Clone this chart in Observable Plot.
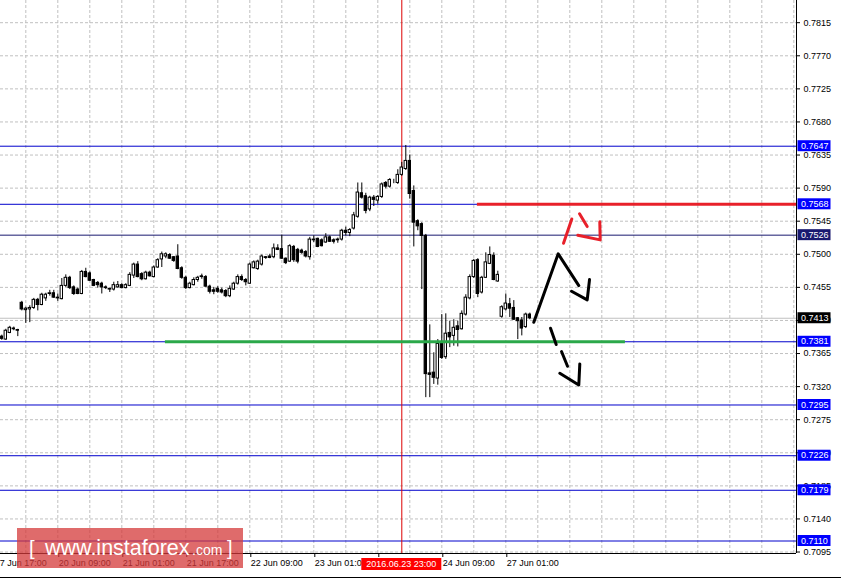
<!DOCTYPE html>
<html><head><meta charset="utf-8">
<script src="https://cdn.jsdelivr.net/npm/d3@7"></script>
<script src="https://cdn.jsdelivr.net/npm/@observablehq/plot@0.6"></script>
<style>
html,body{margin:0;padding:0;background:#fff;}
#chart{position:relative;width:841px;height:580px;overflow:hidden;}
</style></head><body><div id="chart"></div>
<script>
// ---- data (hourly bars, index 0 = 17 Jun 17:00) ----
const firstBar = 2;
const opens = [0.7388,0.7384,0.7393,0.7398,0.7397,0.7434,0.7424,0.7425,0.7427,0.7438,0.7431,0.7440,0.7446,0.7447,0.7441,0.7439,0.7457,0.7468,0.7455,0.7452,0.7446,0.7476,0.7474,0.7465,0.7461,0.7460,0.7455,0.7453,0.7452,0.7455,0.7458,0.7454,0.7457,0.7471,0.7486,0.7473,0.7466,0.7475,0.7469,0.7482,0.7493,0.7497,0.7499,0.7496,0.7497,0.7481,0.7468,0.7454,0.7458,0.7465,0.7470,0.7469,0.7456,0.7451,0.7453,0.7451,0.7450,0.7443,0.7452,0.7460,0.7469,0.7465,0.7460,0.7481,0.7480,0.7486,0.7496,0.7497,0.7496,0.7508,0.7507,0.7494,0.7490,0.7510,0.7506,0.7505,0.7503,0.7496,0.7520,0.7521,0.7519,0.7516,0.7523,0.7519,0.7519,0.7520,0.7532,0.7529,0.7535,0.7551,0.7583,0.7579,0.7561,0.7577,0.7573,0.7578,0.7597,0.7592,0.7600,0.7597,0.7608,0.7616,0.7627,0.7586,0.7545,0.7541,0.7525,0.7338,0.7339,0.7331,0.7380,0.7360,0.7393,0.7389,0.7402,0.7398,0.7418,0.7440,0.7469,0.7492,0.7448,0.7468,0.7487,0.7498,0.7463,0.7415,0.7425,0.7432,0.7427,0.7413,0.7410,0.7401,0.7418];
const highs = [0.7390,0.7398,0.7402,0.7401,0.7398,0.7436,0.7428,0.7430,0.7440,0.7440,0.7447,0.7447,0.7451,0.7451,0.7446,0.7467,0.7472,0.7470,0.7457,0.7454,0.7478,0.7481,0.7476,0.7466,0.7463,0.7462,0.7457,0.7454,0.7462,0.7463,0.7460,0.7460,0.7475,0.7488,0.7490,0.7475,0.7477,0.7477,0.7484,0.7494,0.7503,0.7502,0.7501,0.7497,0.7513,0.7483,0.7470,0.7462,0.7468,0.7470,0.7473,0.7471,0.7458,0.7455,0.7456,0.7454,0.7452,0.7457,0.7462,0.7472,0.7472,0.7467,0.7488,0.7491,0.7492,0.7499,0.7497,0.7500,0.7514,0.7513,0.7526,0.7495,0.7513,0.7512,0.7508,0.7507,0.7505,0.7523,0.7525,0.7522,0.7521,0.7528,0.7525,0.7521,0.7522,0.7534,0.7537,0.7535,0.7557,0.7597,0.7597,0.7583,0.7579,0.7580,0.7580,0.7597,0.7599,0.7603,0.7602,0.7615,0.7625,0.7648,0.7635,0.7593,0.7547,0.7543,0.7527,0.7404,0.7366,0.7384,0.7418,0.7419,0.7409,0.7411,0.7409,0.7423,0.7445,0.7472,0.7493,0.7494,0.7470,0.7502,0.7510,0.7502,0.7477,0.7430,0.7446,0.7440,0.7437,0.7414,0.7414,0.7420,0.7420];
const lows = [0.7383,0.7383,0.7392,0.7396,0.7388,0.7423,0.7406,0.7407,0.7425,0.7423,0.7430,0.7436,0.7443,0.7440,0.7436,0.7438,0.7455,0.7452,0.7444,0.7445,0.7445,0.7468,0.7463,0.7456,0.7454,0.7446,0.7452,0.7448,0.7450,0.7454,0.7453,0.7453,0.7456,0.7467,0.7468,0.7464,0.7465,0.7469,0.7468,0.7481,0.7482,0.7494,0.7493,0.7489,0.7479,0.7466,0.7452,0.7453,0.7457,0.7462,0.7466,0.7455,0.7446,0.7445,0.7447,0.7446,0.7441,0.7441,0.7451,0.7458,0.7463,0.7457,0.7459,0.7480,0.7478,0.7484,0.7493,0.7494,0.7494,0.7505,0.7493,0.7486,0.7489,0.7489,0.7487,0.7500,0.7495,0.7492,0.7516,0.7509,0.7510,0.7515,0.7516,0.7514,0.7515,0.7518,0.7525,0.7524,0.7533,0.7549,0.7575,0.7555,0.7558,0.7565,0.7568,0.7576,0.7589,0.7590,0.7596,0.7595,0.7606,0.7614,0.7575,0.7510,0.7532,0.7452,0.7305,0.7305,0.7323,0.7322,0.7357,0.7357,0.7373,0.7375,0.7374,0.7397,0.7416,0.7438,0.7467,0.7441,0.7446,0.7467,0.7486,0.7464,0.7462,0.7413,0.7423,0.7414,0.7410,0.7384,0.7389,0.7399,0.7411];
const closes = [0.7385,0.7396,0.7400,0.7399,0.7396,0.7425,0.7426,0.7427,0.7438,0.7431,0.7445,0.7445,0.7447,0.7441,0.7440,0.7457,0.7468,0.7454,0.7446,0.7446,0.7476,0.7469,0.7464,0.7457,0.7458,0.7455,0.7454,0.7452,0.7458,0.7458,0.7454,0.7458,0.7472,0.7486,0.7469,0.7466,0.7475,0.7470,0.7482,0.7492,0.7500,0.7500,0.7494,0.7491,0.7480,0.7468,0.7454,0.7460,0.7465,0.7468,0.7469,0.7456,0.7449,0.7449,0.7449,0.7448,0.7443,0.7453,0.7460,0.7469,0.7465,0.7462,0.7486,0.7489,0.7490,0.7497,0.7495,0.7495,0.7508,0.7506,0.7494,0.7488,0.7511,0.7492,0.7490,0.7502,0.7497,0.7520,0.7519,0.7510,0.7511,0.7523,0.7517,0.7517,0.7520,0.7532,0.7529,0.7533,0.7553,0.7584,0.7577,0.7559,0.7577,0.7574,0.7578,0.7595,0.7592,0.7601,0.7600,0.7608,0.7618,0.7627,0.7582,0.7543,0.7538,0.7525,0.7337,0.7336,0.7332,0.7378,0.7359,0.7392,0.7387,0.7400,0.7397,0.7419,0.7441,0.7469,0.7491,0.7446,0.7468,0.7489,0.7499,0.7465,0.7472,0.7428,0.7433,0.7426,0.7411,0.7409,0.7399,0.7418,0.7413];

const priceTicks = [0.7815,0.7770,0.7725,0.7680,0.7635,0.7590,0.7545,0.7500,0.7455,0.7410,0.7365,0.7320,0.7275,0.7230,0.7185,0.7140,0.7095];
const timeTickIdx = [0,16,32,48,64,80,96,112,128];
const timeTickLabels = ["17 Jun 17:00","20 Jun 09:00","21 Jun 01:00","21 Jun 17:00","22 Jun 09:00","23 Jun 01:00","23 Jun 17:00","24 Jun 09:00","27 Jun 01:00"];
const levelPrices = [0.7647,0.7568,0.7526,0.7381,0.7295,0.7226,0.7179,0.7110];
const currentPrice = 0.7413;
const vlineIdx = 102;
const vlineLabel = "2016.06.23 23:00";
const resistanceLine = [{price:0.7568, from:120.9, to:200.675}];
const supportLine = [{price:0.7381, from:42.9, to:157.9}];
const upPath = [
  {seg:"a", i:135.0, p:0.74075},{seg:"a", i:141.1, p:0.75006},{seg:"a", i:146.25, p:0.74574},
  {seg:"b", i:144.43, p:0.74497},{seg:"b", i:148.35, p:0.74380},{seg:"b", i:148.93, p:0.74656}
];
const downPath = [
  {seg:"a", i:139.18, p:0.73994},{seg:"a", i:140.6, p:0.73772},
  {seg:"b", i:141.93, p:0.73677},{seg:"b", i:143.43, p:0.73477},
  {seg:"c", i:141.5, p:0.73381},{seg:"c", i:146.25, p:0.73223},{seg:"c", i:146.5, p:0.73509}
];
const redPath = [
  {seg:"a", i:142.43, p:0.7515},{seg:"a", i:144.5, p:0.7548},
  {seg:"b", i:146.43, p:0.7555},{seg:"b", i:148.35, p:0.75377},
  {seg:"c", i:146.0, p:0.75259},{seg:"c", i:151.6, p:0.75196},{seg:"c", i:151.5, p:0.75441}
];

// ---- build ----
const candles = opens.map((o,k)=>({i:firstBar+k, o, h:highs[k], l:lows[k], c:closes[k]}));
const X0 = 1.675, X1 = 200.675, Y0 = 0.7093, Y1 = 0.78452;
const gridIdx = d3.range(8, 201, 8);
const levelColor = p => p === 0.7526 ? "#191970" : "#0000cc";
const boxColor = p => p === 0.7526 ? "#191970" : "#0000ff";
const FONT = "'Liberation Sans', Arial, sans-serif";

const plot = Plot.plot({
  width: 841, height: 580,
  marginLeft: 0, marginRight: 45, marginTop: 0, marginBottom: 27,
  style: {background: "white", fontFamily: FONT, fontSize: "9px", color: "black", overflow: "visible"},
  x: {domain: [X0, X1]},
  y: {domain: [Y0, Y1]},
  marks: [
    Plot.ruleY(priceTicks, {stroke: "#c0c0c0", strokeDasharray: "3,2"}),
    Plot.ruleX(gridIdx, {stroke: "#c0c0c0", strokeDasharray: "3,2"}),
    Plot.ruleY([currentPrice], {stroke: "#c0c0c0"}),
    Plot.ruleY(levelPrices, {stroke: levelColor}),
    Plot.ruleX([vlineIdx], {stroke: "#dd0000"}),
    Plot.ruleX(candles, {x: "i", y1: "l", y2: "h", stroke: "black"}),
    Plot.rect(candles, {x1: d => d.i - 0.3, x2: d => d.i + 0.3, y1: "o", y2: "c",
      fill: d => d.c >= d.o ? "white" : "black", stroke: "black"}),
    Plot.ruleY(resistanceLine, {y: "price", x1: "from", x2: "to", stroke: "#e8202a", strokeWidth: 3}),
    Plot.ruleY(supportLine, {y: "price", x1: "from", x2: "to", stroke: "#2ba84a", strokeWidth: 3}),
    Plot.line(upPath, {x: "i", y: "p", z: "seg", stroke: "black", strokeWidth: 3}),
    Plot.line(downPath, {x: "i", y: "p", z: "seg", stroke: "black", strokeWidth: 3}),
    Plot.line(redPath, {x: "i", y: "p", z: "seg", stroke: "#e8202a", strokeWidth: 3}),
    Plot.ruleX([X1], {stroke: "black"}),
    Plot.ruleY([Y0], {stroke: "black"}),
    Plot.axisY({anchor: "right", ticks: priceTicks, tickFormat: d => d.toFixed(4), tickSize: 3, tickPadding: 4, label: null, fontSize: 9}),
    Plot.axisX({anchor: "bottom", ticks: timeTickIdx, tickFormat: d => timeTickLabels[timeTickIdx.indexOf(d)],
      tickSize: 4, tickPadding: 2, textAnchor: "start", dx: 1, label: null, fontSize: 9})
  ]
});

const sx = plot.scale("x"), sy = plot.scale("y");
const svg = d3.select(plot);
const xRight = sx.apply(X1);

// price label boxes
const boxes = [...levelPrices.map(p => ({p, fill: boxColor(p)})), {p: currentPrice, fill: "black"}];
const g = svg.append("g").attr("text-anchor", "start");
boxes.forEach(b => {
  const y = sy.apply(b.p);
  g.append("rect").attr("x", xRight + 1.5).attr("y", y - 5.5).attr("width", 33).attr("height", 11).attr("fill", b.fill);
  g.append("text").attr("x", xRight + 5).attr("y", y).attr("dy", "0.35em").attr("text-anchor", "start")
    .attr("fill", "white").attr("font-size", 9).attr("font-family", FONT).text(b.p.toFixed(4));
});

// vertical line time label
const vx = sx.apply(vlineIdx);
const yBottom = sy.apply(Y0);
g.append("rect").attr("x", vx - 40).attr("y", yBottom + 5).attr("width", 80).attr("height", 12).attr("fill", "#ff0000");
g.append("text").attr("x", vx).attr("y", yBottom + 11).attr("dy", "0.35em").attr("text-anchor", "middle")
  .attr("fill", "white").attr("font-size", 9).attr("font-family", FONT).text(vlineLabel);

// window bottom border
g.append("line").attr("x1", 0).attr("x2", 841).attr("y1", 577.5).attr("y2", 577.5).attr("stroke", "black");

// watermark
const wm = svg.append("g").attr("text-anchor", "start");
wm.append("rect").attr("x", 17).attr("y", 528).attr("width", 226).attr("height", 40)
  .attr("fill", "#d43a3a").attr("fill-opacity", 0.75);
const wt = wm.append("text").attr("y", 555).attr("fill", "white").attr("font-family", FONT).attr("text-anchor", "start");
wt.append("tspan").attr("x", 29).attr("font-size", 20).text("[");
wt.append("tspan").attr("x", 45).attr("font-size", 21.5).text("www.instaforex");
wt.append("tspan").attr("x", 192).attr("font-size", 14).text(".com");
wt.append("tspan").attr("x", 227).attr("font-size", 20).text("]");

document.getElementById("chart").appendChild(plot);
</script>
</body></html>
